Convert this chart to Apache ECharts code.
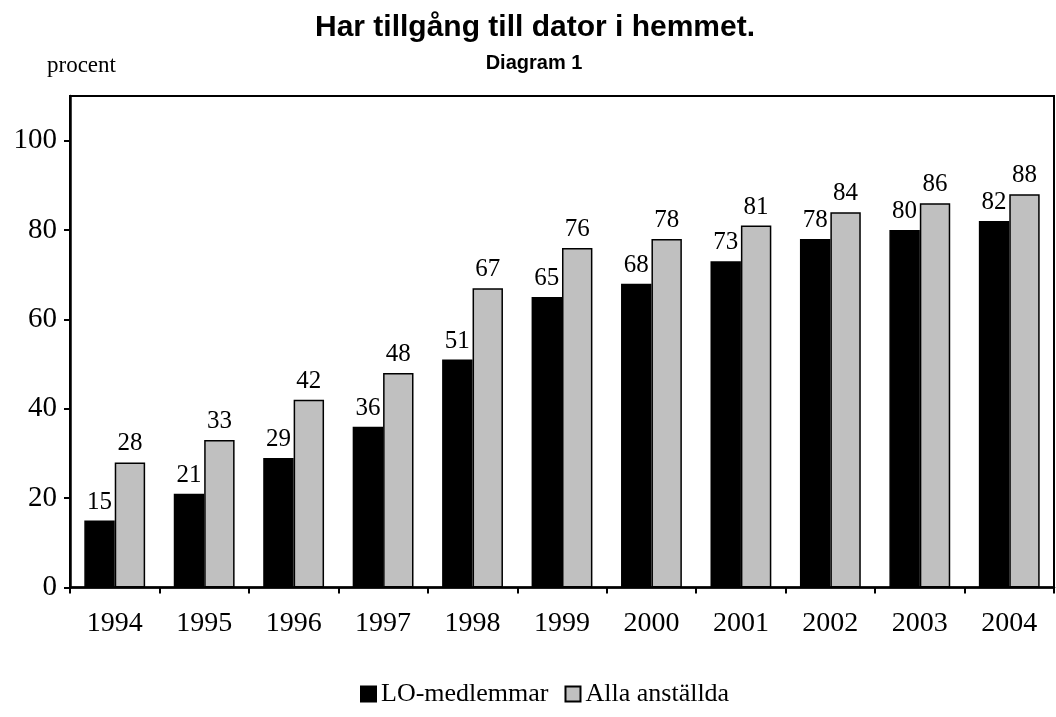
<!DOCTYPE html>
<html>
<head>
<meta charset="utf-8">
<script src="https://cdn.jsdelivr.net/npm/echarts@6/dist/echarts.min.js"></script>
<style>
  html, body { margin: 0; padding: 0; background: #fff; }
  #main { width: 1056px; height: 717px; }
</style>
</head>
<body>
<div id="main"></div>
<script>
const years = ['1994', '1995', '1996', '1997', '1998', '1999', '2000', '2001', '2002', '2003', '2004'];
const loMembers = [15, 21, 29, 36, 51, 65, 68, 73, 78, 80, 82];
const allEmployees = [28, 33, 42, 48, 67, 76, 78, 81, 84, 86, 88];
const yTicks = [0, 20, 40, 60, 80, 100];

const serif = '"Liberation Serif", "Times New Roman", serif';
const sans = '"Liberation Sans", Arial, sans-serif';

const chart = echarts.init(document.getElementById('main'));

const barLabel = {
    show: true,
    position: 'top',
    distance: 6,
    color: '#000',
    fontFamily: serif,
    fontSize: 25
};

chart.setOption({
    animation: false,
    title: [
        {
            text: 'Har tillgång till dator i hemmet.',
            left: 530, top: 8, textAlign: 'center',
            textStyle: { fontFamily: sans, fontWeight: 'bold', fontSize: 30, color: '#000' }
        },
        {
            text: 'Diagram 1',
            left: 529, top: 48, textAlign: 'center',
            textStyle: { fontFamily: sans, fontWeight: 'bold', fontSize: 20, color: '#000' }
        },
        {
            text: 'procent',
            left: 42, top: 49,
            textStyle: { fontFamily: serif, fontWeight: 'normal', fontSize: 23, color: '#000' }
        }
    ],
    legend: {
        left: 355, top: 676,
        itemWidth: 15, itemHeight: 15, itemGap: 16,
        icon: 'rect',
        textStyle: { fontFamily: serif, fontSize: 26, color: '#000' },
        data: ['LO-medlemmar', 'Alla anställda']
    },
    grid: {
        left: 70, right: 2, top: 96, bottom: 129.5,
        show: true, borderColor: '#000', borderWidth: 2, backgroundColor: 'transparent'
    },
    xAxis: {
        type: 'category',
        data: years,
        axisLine: { lineStyle: { color: '#000', width: 2.5 } },
        axisTick: { show: true, length: 6, lineStyle: { color: '#000', width: 2 } },
        axisLabel: { color: '#000', fontFamily: serif, fontSize: 28, margin: 22 }
    },
    yAxis: {
        type: 'value',
        min: 0, max: 110, interval: 20,
        splitLine: { show: false },
        axisLine: { show: true, lineStyle: { color: '#000', width: 2.5 } },
        axisTick: { show: true, length: 6, customValues: yTicks, lineStyle: { color: '#000', width: 2 } },
        axisLabel: { color: '#000', fontFamily: serif, fontSize: 29, margin: 13, customValues: yTicks }
    },
    series: [
        {
            name: 'LO-medlemmar',
            type: 'bar',
            data: loMembers,
            barGap: '0%',
            barCategoryGap: '32%',
            itemStyle: { color: '#000', borderColor: '#000', borderWidth: 1.5 },
            label: barLabel
        },
        {
            name: 'Alla anställda',
            type: 'bar',
            data: allEmployees,
            itemStyle: { color: '#c0c0c0', borderColor: '#000', borderWidth: 1.5 },
            label: barLabel
        }
    ]
});
</script>
</body>
</html>
